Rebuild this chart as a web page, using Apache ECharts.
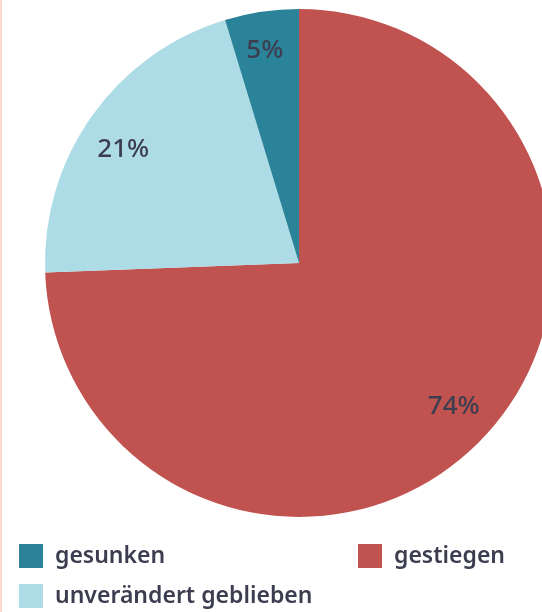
<!DOCTYPE html>
<html><head><meta charset="utf-8">
<script src="https://cdn.jsdelivr.net/npm/echarts@6/dist/echarts.min.js"></script>
<style>html,body{margin:0;padding:0;background:#fff}#c{width:542px;height:612px}</style>
</head><body><div id="c"></div>
<script>
const categories = ['gestiegen', 'unverändert geblieben', 'gesunken'];
const values = [74.4, 20.9, 4.7];
const labels = ['74%', '21%', '5%'];
const colors = ['#c0524f', '#addce6', '#2a8399'];

const chart = echarts.init(document.getElementById('c'));
const font = 'Noto Sans';
const textColor = '#3c3e50';
// small per-label nudges to match the reference placement
const labelNudge = [[2, -3], [-3, 10], [-3, -3]];
const pieData = categories.map((n, i) => ({ name: n, value: values[i], itemStyle: { color: colors[i] } }));
const labelData = categories.map((n, i) => ({ name: n, value: values[i], label: { formatter: labels[i], offset: labelNudge[i] } }));
const legendBase = {
  orient: 'horizontal', itemWidth: 24, itemHeight: 24, itemGap: 10, icon: 'rect', padding: 0,
  selectedMode: false, itemStyle: { borderWidth: 0 },
  textStyle: { fontFamily: font, fontSize: 23, fontWeight: 600, color: textColor, padding: [0, 0, 0, 7] }
};
chart.setOption({
  animation: false,
  graphic: [{ type: 'rect', shape: { x: 0, y: 0, width: 2, height: 612 }, style: { fill: '#fbd9cc' } }],
  legend: [
    Object.assign({}, legendBase, { data: ['gesunken'], left: 19, top: 544 }),
    Object.assign({}, legendBase, { data: ['gestiegen'], left: 358, top: 544 }),
    Object.assign({}, legendBase, { data: ['unverändert geblieben'], left: 19, top: 584 })
  ],
  series: [
    {
      type: 'pie', center: [299, 263], radius: [0, 254], startAngle: 90, clockwise: true,
      data: pieData, label: { show: false }, labelLine: { show: false }, silent: true,
      itemStyle: { borderWidth: 0 }
    },
    {
      type: 'pie', center: [299, 263], radius: [0, 418], startAngle: 90, clockwise: true,
      data: labelData, silent: true, legendHoverLink: false,
      itemStyle: { color: 'rgba(0,0,0,0)' },
      label: { show: true, position: 'inside', fontFamily: font, fontSize: 26, fontWeight: 500, color: textColor },
      labelLine: { show: false }
    }
  ]
});
</script></body></html>
